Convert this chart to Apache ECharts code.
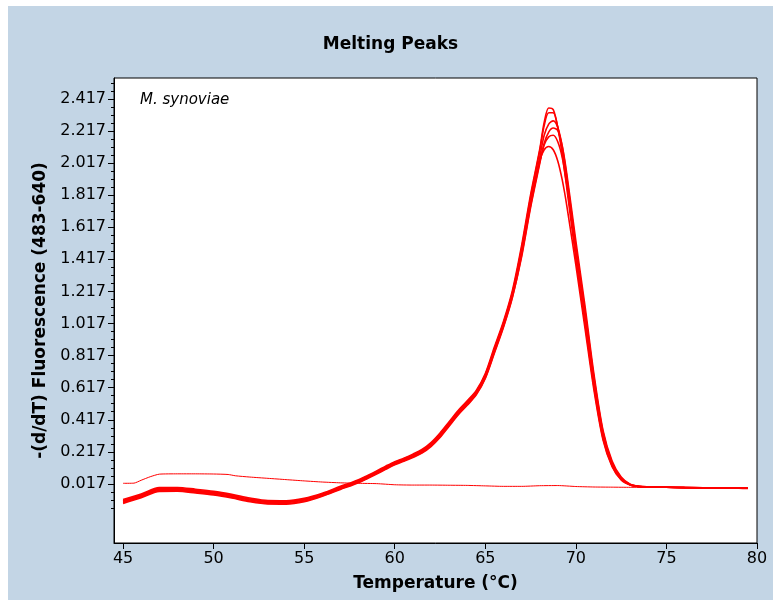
<!DOCTYPE html>
<html>
<head>
<meta charset="utf-8">
<script src="https://cdn.jsdelivr.net/npm/echarts@6/dist/echarts.min.js"></script>
<style>
html, body { margin: 0; padding: 0; background: #fff; }
#chart { position: absolute; left: 8px; top: 6px; width: 765px; height: 594px; }
</style>
</head>
<body>
<div id="chart"></div>
<script>
// temperatures shared by the sample curves (°C)
const temps = [
  45, 46, 47, 48, 49, 50, 51, 52, 53, 54, 55, 56, 57,
  57.5, 58, 58.5, 59, 59.5, 60, 60.5, 61, 61.5, 62, 62.5, 63, 63.5, 64, 64.5, 65, 65.5, 66, 66.5, 67, 67.5, 68,
  68.25, 68.5, 68.75, 69, 69.25, 69.5,
  70, 70.5, 71, 71.5, 72, 72.5, 73, 73.5, 74,
  75, 76, 77, 78, 79, 79.5
];
// -(d/dT) values, one array per sample
const sample1 = [
  -0.080, -0.046, -0.006, -0.005, -0.016, -0.029, -0.048, -0.071, -0.087, -0.088, -0.073, -0.041, 0.002,
  0.022, 0.043, 0.070, 0.098, 0.128, 0.156, 0.178, 0.203, 0.232, 0.275, 0.335, 0.405, 0.475, 0.535, 0.600, 0.705, 0.870, 1.030, 1.225, 1.500, 1.820, 2.100,
  2.270, 2.360, 2.350, 2.240, 2.070, 1.860,
  1.420, 1.020, 0.620, 0.300, 0.130, 0.045, 0.010, 0.000, -0.002,
  -0.004, -0.006, -0.008, -0.009, -0.010, -0.010
];
const sample2 = [
  -0.086, -0.052, -0.012, -0.011, -0.022, -0.035, -0.054, -0.077, -0.092, -0.093, -0.078, -0.045, -0.003,
  0.017, 0.038, 0.065, 0.093, 0.123, 0.151, 0.173, 0.197, 0.226, 0.268, 0.327, 0.397, 0.467, 0.528, 0.592, 0.698, 0.860, 1.020, 1.212, 1.485, 1.805, 2.090,
  2.250, 2.330, 2.330, 2.240, 2.090, 1.890,
  1.460, 1.060, 0.650, 0.320, 0.140, 0.050, 0.012, 0.001, -0.002,
  -0.004, -0.006, -0.007, -0.009, -0.010, -0.010
];
const sample3 = [
  -0.093, -0.058, -0.018, -0.017, -0.028, -0.041, -0.060, -0.083, -0.098, -0.098, -0.083, -0.050, -0.008,
  0.012, 0.033, 0.060, 0.088, 0.118, 0.146, 0.168, 0.192, 0.220, 0.262, 0.320, 0.390, 0.460, 0.520, 0.585, 0.690, 0.850, 1.010, 1.200, 1.460, 1.770, 2.050,
  2.190, 2.260, 2.280, 2.240, 2.120, 1.930,
  1.500, 1.100, 0.680, 0.340, 0.150, 0.055, 0.014, 0.002, -0.001,
  -0.004, -0.005, -0.007, -0.008, -0.009, -0.010
];
const sample4 = [
  -0.099, -0.064, -0.024, -0.023, -0.034, -0.047, -0.066, -0.089, -0.104, -0.104, -0.089, -0.056, -0.013,
  0.007, 0.028, 0.055, 0.083, 0.112, 0.140, 0.162, 0.186, 0.213, 0.255, 0.312, 0.382, 0.452, 0.512, 0.577, 0.680, 0.838, 0.998, 1.185, 1.430, 1.740, 2.010,
  2.140, 2.210, 2.235, 2.220, 2.120, 1.950,
  1.530, 1.130, 0.700, 0.350, 0.160, 0.060, 0.015, 0.002, -0.001,
  -0.003, -0.005, -0.007, -0.008, -0.009, -0.010
];
const sample5 = [
  -0.104, -0.069, -0.029, -0.028, -0.039, -0.052, -0.071, -0.094, -0.108, -0.109, -0.094, -0.060, -0.017,
  0.003, 0.024, 0.051, 0.079, 0.108, 0.136, 0.158, 0.182, 0.209, 0.250, 0.307, 0.377, 0.447, 0.507, 0.572, 0.675, 0.832, 0.992, 1.180, 1.440, 1.750, 2.020,
  2.130, 2.180, 2.190, 2.150, 2.050, 1.880,
  1.480, 1.090, 0.670, 0.330, 0.145, 0.052, 0.012, 0.001, -0.002,
  -0.004, -0.006, -0.007, -0.009, -0.010, -0.011
];
const sample6 = [
  -0.090, -0.055, -0.015, -0.014, -0.025, -0.038, -0.057, -0.080, -0.095, -0.095, -0.080, -0.047, -0.005,
  0.015, 0.036, 0.063, 0.091, 0.121, 0.149, 0.171, 0.195, 0.224, 0.266, 0.325, 0.395, 0.465, 0.525, 0.590, 0.695, 0.855, 1.015, 1.208, 1.470, 1.780, 2.030,
  2.100, 2.120, 2.100, 2.030, 1.910, 1.750,
  1.380, 0.990, 0.600, 0.290, 0.125, 0.042, 0.010, 0.000, -0.002,
  -0.004, -0.006, -0.008, -0.009, -0.010, -0.010
];
// flat negative control curve
const ctrlTemps = [45, 45.6, 46, 46.5, 47, 48, 49, 50, 50.8, 51.2, 52, 53, 54, 55, 56, 57, 58, 59, 60, 61, 62, 63, 64, 65, 66, 67, 68, 69, 70, 71, 72, 73, 74, 75, 76, 77, 78, 79, 79.5];
const ctrlValues = [0.021, 0.022, 0.040, 0.062, 0.078, 0.080, 0.080, 0.079, 0.076, 0.068, 0.060, 0.052, 0.044, 0.036, 0.029, 0.024, 0.021, 0.019, 0.012, 0.010, 0.010, 0.009, 0.008, 0.005, 0.002, 0.002, 0.006, 0.007, 0.001, -0.002, -0.003, -0.004, -0.004, -0.005, -0.006, -0.007, -0.008, -0.009, -0.009];

// axis ticks
const xTicks = [45, 50, 55, 60, 65, 70, 75, 80];
const yTicks = [0.017, 0.217, 0.417, 0.617, 0.817, 1.017, 1.217, 1.417, 1.617, 1.817, 2.017, 2.217, 2.417];
const yMinorTicks = [-0.133, -0.083, -0.033, 0.067, 0.117, 0.167, 0.267, 0.317, 0.367, 0.467, 0.517, 0.567,
  0.667, 0.717, 0.767, 0.867, 0.917, 0.967, 1.067, 1.117, 1.167, 1.267, 1.317, 1.367, 1.467, 1.517, 1.567,
  1.667, 1.717, 1.767, 1.867, 1.917, 1.967, 2.067, 2.117, 2.167, 2.267, 2.317, 2.367, 2.467, 2.517];

const samples = [sample1, sample2, sample3, sample4, sample5, sample6];
const RED = '#ff0000';

let myChart = echarts.init(document.getElementById('chart'));

let series = samples.map(function (vals, k) {
  return {
    name: 'sample' + (k + 1),
    type: 'line',
    showSymbol: false,
    smooth: 0.3,
    lineStyle: { color: RED, width: 1.6 },
    data: temps.map(function (t, i) { return [t, vals[i]]; })
  };
});
series.push({
  name: 'control',
  type: 'line',
  showSymbol: false,
  smooth: 0.2,
  lineStyle: { color: RED, width: 1 },
  data: ctrlTemps.map(function (t, i) { return [t, ctrlValues[i]]; })
});

let option = {
  backgroundColor: '#c3d5e5',
  animation: false,
  title: {
    text: 'Melting Peaks',
    left: 'center',
    top: 30,
    padding: 0,
    textStyle: { fontFamily: 'DejaVu Sans', fontWeight: 'bold', fontSize: 17, color: '#000' }
  },
  grid: {
    left: 106, top: 72, right: 16, bottom: 57,
    show: true, backgroundColor: '#fff', borderColor: '#000', borderWidth: 1
  },
  graphic: [{
    type: 'text',
    left: 132,
    top: 87,
    style: { text: 'M. synoviae', font: 'italic 15px "DejaVu Sans"', fill: '#000' }
  }],
  xAxis: {
    type: 'value',
    min: 44.5,
    max: 80,
    name: 'Temperature (°C)',
    nameLocation: 'middle',
    nameGap: 32,
    nameTextStyle: { fontFamily: 'DejaVu Sans', fontWeight: 'bold', fontSize: 17, color: '#000' },
    axisLine: { show: true, onZero: false, lineStyle: { color: '#000' } },
    axisTick: { show: true, length: 6, customValues: xTicks, lineStyle: { color: '#000' } },
    axisLabel: { customValues: xTicks, margin: 8, fontFamily: 'DejaVu Sans', fontSize: 16, color: '#000' },
    splitLine: { show: false }
  },
  yAxis: [{
    type: 'value',
    min: -0.351,
    max: 2.547,
    name: '-(d/dT) Fluorescence (483-640)',
    nameLocation: 'middle',
    nameGap: 64,
    nameTextStyle: { fontFamily: 'DejaVu Sans', fontWeight: 'bold', fontSize: 17, color: '#000' },
    axisLine: { show: true, onZero: false, lineStyle: { color: '#000' } },
    axisTick: { show: true, length: 6, customValues: yTicks, lineStyle: { color: '#000' } },
    axisLabel: {
      customValues: yTicks, margin: 8, fontFamily: 'DejaVu Sans', fontSize: 16, color: '#000',
      formatter: function (v) { return v.toFixed(3); }
    },
    splitLine: { show: false }
  }, {
    type: 'value',
    min: -0.351,
    max: 2.547,
    position: 'left',
    axisLine: { show: false, onZero: false },
    axisTick: { show: true, length: 3, customValues: yMinorTicks, lineStyle: { color: '#000' } },
    axisLabel: { show: false },
    splitLine: { show: false }
  }],
  series: series
};
myChart.setOption(option);
</script>
</body>
</html>
